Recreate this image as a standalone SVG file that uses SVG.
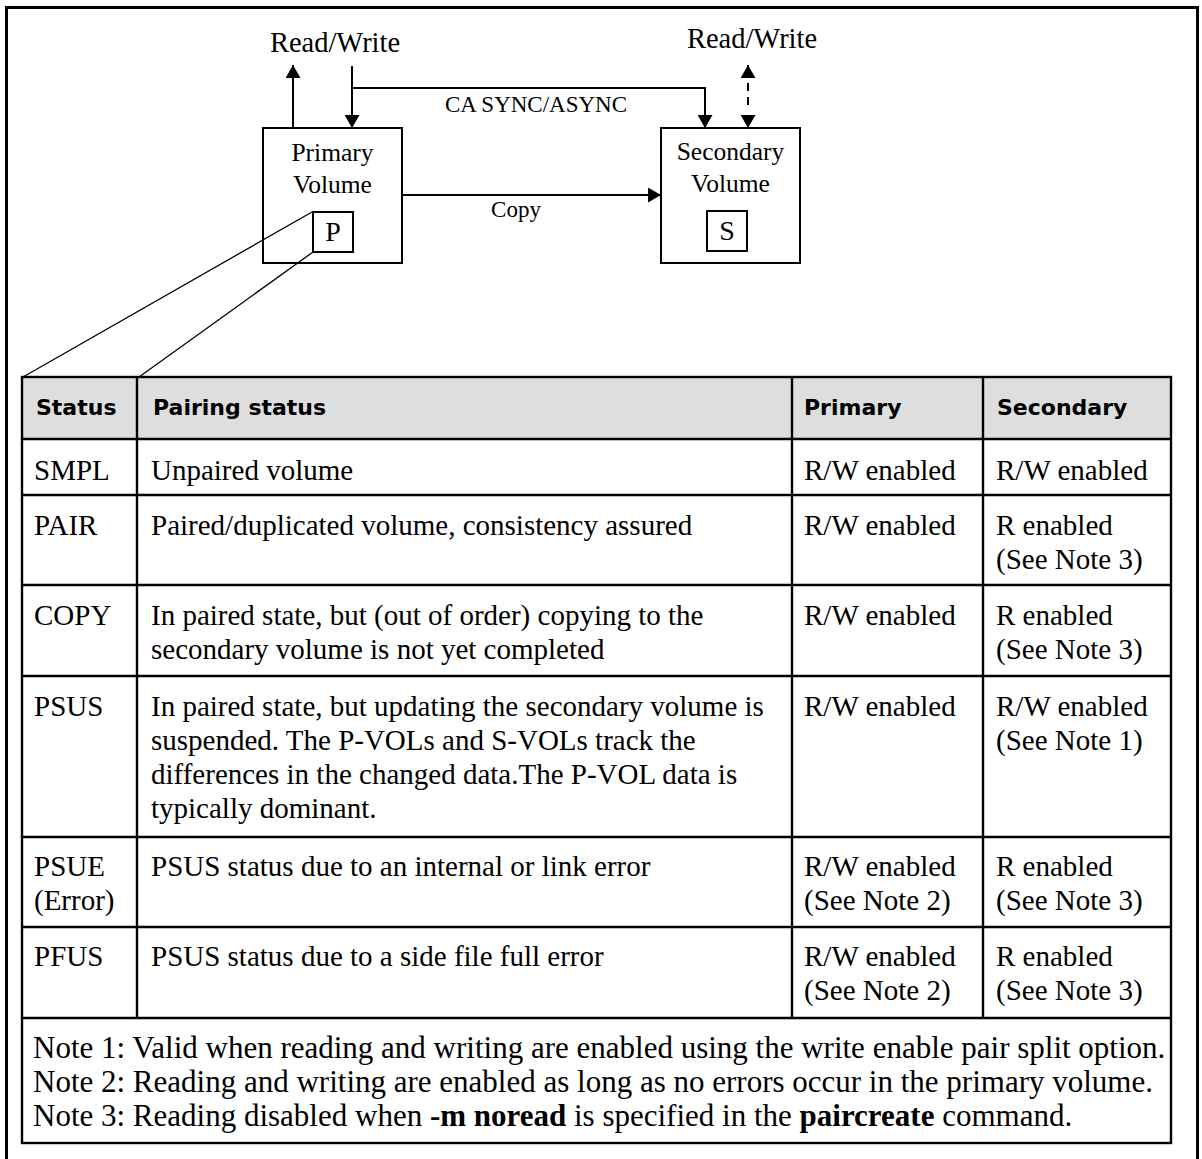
<svg xmlns="http://www.w3.org/2000/svg" width="1202" height="1159" viewBox="0 0 1202 1159">
  <style>
    .serif { font-family: "Liberation Serif", "Times New Roman", serif; fill: #000; }
    .lbl { font-size: 28.5px; }
    .small { font-size: 23px; }
    .cell { font-size: 29px; }
    .note { font-size: 31px; }
    .hdr { font-family: "DejaVu Sans", "Liberation Sans", sans-serif; font-weight: bold; font-size: 22px; fill: #000; }
    .box { fill: none; stroke: #000; stroke-width: 2; }
    .wire { fill: none; stroke: #000; stroke-width: 2; }
    .fan { fill: none; stroke: #000; stroke-width: 1.3; }
    .grid { fill: none; stroke: #000; stroke-width: 2.4; }
    .b { font-weight: bold; }
  </style>
  <defs>
    <marker id="head" markerUnits="userSpaceOnUse" markerWidth="14" markerHeight="15" refX="13" refY="7.5" orient="auto">
      <path d="M0,0 L13,7.5 L0,15 Z" fill="#000"/>
    </marker>
  </defs>

  <!-- page frame (open at the bottom) -->
  <path d="M6.5,1162 V7.5 H1197.5 V1162" fill="none" stroke="#000" stroke-width="3"/>

  <g id="label-rw-primary">
    <text class="serif lbl" x="335" y="52" text-anchor="middle">Read/Write</text>
  </g>
  <g id="label-rw-secondary">
    <text class="serif lbl" x="752" y="48" text-anchor="middle">Read/Write</text>
  </g>
  <g id="label-ca-sync">
    <text class="serif small" x="536" y="112" text-anchor="middle" fill="#222">CA SYNC/ASYNC</text>
  </g>
  <g id="label-copy">
    <text class="serif small" x="516" y="217" text-anchor="middle">Copy</text>
  </g>

  <g id="primary-volume">
    <rect class="box" x="263" y="128" width="139" height="135"/>
    <text class="serif" font-size="25.5" x="332.5" y="161" text-anchor="middle">Primary</text>
    <text class="serif" font-size="25.5" x="332.5" y="193" text-anchor="middle">Volume</text>
    <rect class="box" x="313" y="212" width="40" height="40"/>
    <text class="serif" font-size="28" x="333" y="241" text-anchor="middle">P</text>
  </g>

  <g id="secondary-volume">
    <rect class="box" x="661" y="128" width="139" height="135"/>
    <text class="serif" font-size="25.5" x="730.5" y="160" text-anchor="middle">Secondary</text>
    <text class="serif" font-size="25.5" x="730.5" y="192" text-anchor="middle">Volume</text>
    <rect class="box" x="707" y="211" width="40" height="40"/>
    <text class="serif" font-size="28" x="727" y="240" text-anchor="middle">S</text>
  </g>

  <g id="status-table">
    <rect x="22" y="377" width="1149" height="62" fill="#dedede"/>
    <rect class="grid" x="22" y="377" width="1149" height="766"/>
    <path class="grid" d="M22,439 H1171 M22,495 H1171 M22,585 H1171 M22,676 H1171 M22,837 H1171 M22,927 H1171 M22,1018 H1171"/>
    <path class="grid" d="M137,377 V1018 M792,377 V1018 M983,377 V1018"/>

    <text class="hdr" x="36" y="415">Status</text>
    <text class="hdr" x="153" y="415">Pairing status</text>
    <text class="hdr" x="804" y="415">Primary</text>
    <text class="hdr" x="997" y="415">Secondary</text>

    <g class="serif cell">
      <!-- SMPL -->
      <text x="34" y="480">SMPL</text>
      <text x="151" y="480">Unpaired volume</text>
      <text x="804" y="480">R/W enabled</text>
      <text x="996" y="480">R/W enabled</text>
      <!-- PAIR -->
      <text x="34" y="535">PAIR</text>
      <text x="151" y="535">Paired/duplicated volume, consistency assured</text>
      <text x="804" y="535">R/W enabled</text>
      <text x="996" y="535">R enabled</text>
      <text x="996" y="569">(See Note 3)</text>
      <!-- COPY -->
      <text x="34" y="625">COPY</text>
      <text x="151" y="625">In paired state, but (out of order) copying to the</text>
      <text x="151" y="659">secondary volume is not yet completed</text>
      <text x="804" y="625">R/W enabled</text>
      <text x="996" y="625">R enabled</text>
      <text x="996" y="659">(See Note 3)</text>
      <!-- PSUS -->
      <text x="34" y="716">PSUS</text>
      <text x="151" y="716">In paired state, but updating the secondary volume is</text>
      <text x="151" y="750">suspended. The P-VOLs and S-VOLs track the</text>
      <text x="151" y="784">differences in the changed data.The P-VOL data is</text>
      <text x="151" y="818">typically dominant.</text>
      <text x="804" y="716">R/W enabled</text>
      <text x="996" y="716">R/W enabled</text>
      <text x="996" y="750">(See Note 1)</text>
      <!-- PSUE -->
      <text x="34" y="876">PSUE</text>
      <text x="34" y="910">(Error)</text>
      <text x="151" y="876">PSUS status due to an internal or link error</text>
      <text x="804" y="876">R/W enabled</text>
      <text x="804" y="910">(See Note 2)</text>
      <text x="996" y="876">R enabled</text>
      <text x="996" y="910">(See Note 3)</text>
      <!-- PFUS -->
      <text x="34" y="966">PFUS</text>
      <text x="151" y="966">PSUS status due to a side file full error</text>
      <text x="804" y="966">R/W enabled</text>
      <text x="804" y="1000">(See Note 2)</text>
      <text x="996" y="966">R enabled</text>
      <text x="996" y="1000">(See Note 3)</text>
    </g>
    <g class="serif note">
      <text x="33" y="1058">Note 1: Valid when reading and writing are enabled using the write enable pair split option.</text>
      <text x="33" y="1092">Note 2: Reading and writing are enabled as long as no errors occur in the primary volume.</text>
      <text x="33" y="1126">Note 3: Reading disabled when <tspan class="b">-m noread</tspan> is specified in the <tspan class="b">paircreate</tspan> command.</text>
    </g>
  </g>

  <!-- connectors -->
  <g id="connectors">
    <path class="wire" d="M293,128 V65" marker-end="url(#head)"/>
    <path class="wire" d="M352,66 V128" marker-end="url(#head)"/>
    <path class="wire" d="M352,88 H705 V128" marker-end="url(#head)"/>
    <path class="wire" d="M402,195 H661" marker-end="url(#head)"/>
    <!-- dashed two-way read/write on the secondary -->
    <path class="wire" d="M748,78 V65" marker-end="url(#head)"/>
    <path class="wire" d="M748,83 V109" stroke-dasharray="8 6"/>
    <path class="wire" d="M748,115 V128" marker-end="url(#head)"/>
    <!-- zoom-out lines from the P marker to the status table -->
    <path class="fan" d="M312,212 L23,377"/>
    <path class="fan" d="M313,252 L139,377"/>
  </g>
</svg>
